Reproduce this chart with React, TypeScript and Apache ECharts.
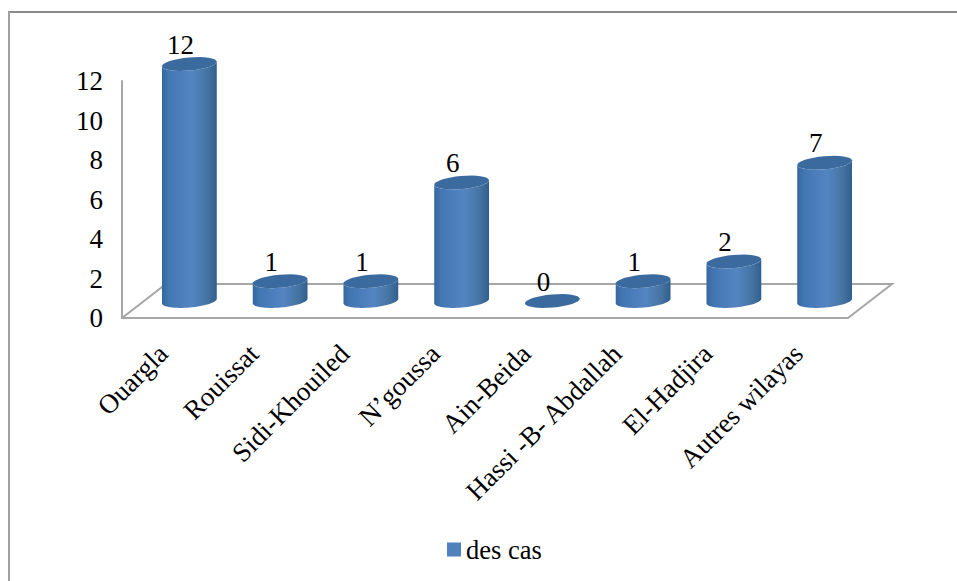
import React, { useEffect, useRef } from "react";
import * as echarts from "echarts";

const categories = ["Ouargla", "Rouissat", "Sidi-Khouiled", "N’goussa", "Ain-Beida", "Hassi -B- Abdallah", "El-Hadjira", "Autres wilayas"];
const cases = [12, 1, 1, 6, 0, 1, 2, 7];
const seriesName = "des cas";
const valueTicks = { min: 0, max: 12, interval: 2 };

// Offset of the column centres from the front of the floor; the floor is twice as deep.
const DEPTH_X = 22;
const DEPTH_Y = -17;
const RX = 27.5;
const RY = 6.5;
const TILT = (5 * Math.PI) / 180;
const FONT = "'Liberation Serif', 'Times New Roman', serif";

// Point on a tilted ellipse; angle 0 is the right tip, PI the left tip, and
// angles between 0 and PI run along the near (lower) side.
function rim(cx: number, cy: number, angle: number) {
  const ex = RX * Math.cos(angle);
  const ey = RY * Math.sin(angle);
  return [cx + ex * Math.cos(TILT) + ey * Math.sin(TILT), cy - ex * Math.sin(TILT) + ey * Math.cos(TILT)];
}

function arc(cx: number, cy: number, from: number, to: number) {
  const steps = 32;
  const pts: number[][] = [];
  for (let i = 0; i <= steps; i++) pts.push(rim(cx, cy, from + ((to - from) * i) / steps));
  return pts;
}

function cylinder(params: any, api: any) {
  const value = api.value(1);
  const base = api.coord([api.value(0), 0]);
  const head = api.coord([api.value(0), value]);
  const cx = base[0] + DEPTH_X;
  const by = base[1] + DEPTH_Y;
  const ty = head[1] + DEPTH_Y;
  const side = new echarts.graphic.LinearGradient(0, 0, 1, 0, [
    { offset: 0, color: "#36679c" },
    { offset: 0.12, color: "#4276b2" },
    { offset: 0.55, color: "#5385c2" },
    { offset: 0.85, color: "#44729f" },
    { offset: 1, color: "#305e8e" },
  ]);
  const children: any[] = [];
  if (value > 0) {
    children.push({
      type: "polygon",
      shape: { points: [...arc(cx, by, Math.PI, 0), ...arc(cx, ty, 0, Math.PI)] },
      style: { fill: side },
    });
  }
  children.push({
    type: "polygon",
    shape: { points: arc(cx, ty, 0, Math.PI * 2) },
    style: { fill: "#3b6a9f" },
  });
  children.push({
    type: "text",
    style: {
      text: String(value),
      x: cx - 9,
      y: ty - 6,
      align: "center",
      verticalAlign: "bottom",
      font: `27px ${FONT}`,
      fill: "#000",
    },
  });
  return { type: "group", children };
}

// Back edge and both sides of the floor, continuing the x axis in depth.
function floor(params: any, api: any) {
  const band = api.size([1, 0])[0];
  const first = api.coord([0, 0]);
  const last = api.coord([categories.length - 1, 0]);
  const left = first[0] - band / 2;
  const right = last[0] + band / 2;
  const y = first[1];
  const points = [
    [left, y],
    [left + DEPTH_X * 2, y + DEPTH_Y * 2],
    [right + DEPTH_X * 2, y + DEPTH_Y * 2],
    [right, y],
  ];
  return {
    type: "polyline",
    shape: { points },
    style: { stroke: "#a6a6a6", lineWidth: 2, fill: "none" },
  };
}

export default function App() {
  const ref = useRef<HTMLDivElement>(null);
  useEffect(() => {
    const chart = echarts.init(ref.current!, undefined, { renderer: "svg" });
    chart.setOption({
      animation: false,
      backgroundColor: "#fff",
      grid: { left: 122, right: 109, top: 81, height: 237 },
      legend: {
        show: true,
        data: [{ name: seriesName, icon: "rect", itemStyle: { color: "#4f81bd" } }],
        left: 442,
        top: 531,
        itemWidth: 14,
        itemHeight: 14,
        textStyle: { fontFamily: FONT, fontSize: 26.5, color: "#000" },
      },
      // Chart frame: only its top and left edges fall inside the page.
      graphic: [
        {
          type: "line",
          shape: { x1: 9, y1: 12, x2: 957, y2: 12 },
          style: { stroke: "#8c8c8c", lineWidth: 2 },
          z: -1,
        },
        {
          type: "line",
          shape: { x1: 9, y1: 11, x2: 9, y2: 581 },
          style: { stroke: "#a0a0a0", lineWidth: 2 },
          z: -1,
        },
      ],
      xAxis: {
        type: "category",
        data: categories,
        axisLine: { lineStyle: { color: "#a6a6a6", width: 2 } },
        axisTick: { show: false },
        axisLabel: {
          rotate: 45,
          margin: 27,
          padding: [0, 6, 0, 0],
          interval: 0,
          fontFamily: FONT,
          fontSize: 27,
          color: "#000",
        },
      },
      yAxis: {
        type: "value",
        ...valueTicks,
        axisLine: { show: true, lineStyle: { color: "#a6a6a6", width: 2 } },
        axisTick: { show: false },
        splitLine: { show: false },
        axisLabel: { margin: 19, fontFamily: FONT, fontSize: 27, color: "#000" },
      },
      series: [
        { type: "custom", name: "floor", silent: true, data: [[0, 0]], renderItem: floor, z: 1 },
        {
          type: "custom",
          name: seriesName,
          silent: true,
          data: cases.map((v, i) => [i, v]),
          encode: { x: 0, y: 1 },
          renderItem: cylinder,
          z: 2,
        },
      ],
    });
    return () => chart.dispose();
  }, []);
  return <div ref={ref} style={{ position: "absolute", left: 0, top: 0, width: 957, height: 581 }} />;
}
